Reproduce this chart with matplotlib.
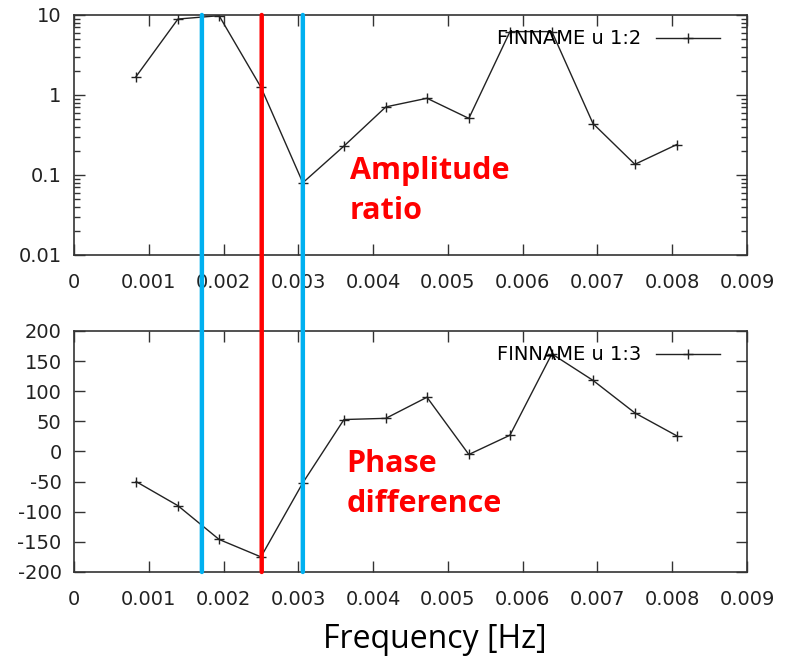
import matplotlib.pyplot as plt
from matplotlib.patches import ConnectionPatch

plt.rcParams["axes.unicode_minus"] = False

# frequency bins [Hz]
freq = [0.00083, 0.00139, 0.00194, 0.0025, 0.00306, 0.00361, 0.00417,
        0.00472, 0.00528, 0.00583, 0.00639, 0.00694, 0.0075, 0.00806]
# amplitude ratio (column 2)
amp_ratio = [1.7, 8.9, 9.8, 1.25, 0.08, 0.23, 0.71,
             0.91, 0.51, 6.2, 6.2, 0.44, 0.136, 0.24]
# phase difference (column 3)
phase_diff = [-50, -90, -146, -175, -52, 53, 55,
              90, -5, 27, 162, 118, 64, 26]

xticks = [0, 0.001, 0.002, 0.003, 0.004, 0.005, 0.006, 0.007, 0.008, 0.009]
xticklabels = ["0", "0.001", "0.002", "0.003", "0.004", "0.005", "0.006", "0.007", "0.008", "0.009"]
marker_freqs = [0.00171, 0.00251, 0.00306]
marker_colors = ["#00b0f0", "#ff0000", "#00b0f0"]

fig = plt.figure(figsize=(7.89, 6.63), dpi=100)
ax1 = fig.add_axes([0.0938, 0.6154, 0.853, 0.362])
ax2 = fig.add_axes([0.0938, 0.1373, 0.853, 0.3635])

def style(ax):
    for s in ax.spines.values():
        s.set_color("#333333")
        s.set_linewidth(1.2)
    ax.set_xlim(0, 0.009)
    ax.set_xticks(xticks)
    ax.set_xticklabels(xticklabels, fontsize=14, color="#222222")
    ax.tick_params(direction="in", top=True, right=True, length=8, width=1, color="#333333")
    ax.tick_params(axis="x", pad=13)
    ax.tick_params(axis="y", pad=9)
    ax.tick_params(which="minor", direction="in", top=True, right=True, length=4, width=1, color="#333333")
    for lab in ax.get_yticklabels():
        lab.set_fontsize(14)
        lab.set_color("#222222")
    ax.legend(loc="upper right", frameon=False, markerfirst=False, handlelength=3.3,
              handletextpad=0.75, fontsize=14, borderaxespad=0, borderpad=0,
              bbox_to_anchor=(0.96, 0.94))

# top: amplitude ratio (log)
ax1.plot(freq, amp_ratio, color="#222222", lw=1, marker="+", ms=7, mew=1, label="FINNAME u 1:2")
ax1.set_yscale("log")
ax1.set_ylim(0.01, 10)
ax1.set_yticks([0.01, 0.1, 1, 10])
ax1.set_yticklabels(["0.01", "0.1", "1", "10"])
style(ax1)
ax1.text(0.00369, 0.063, "Amplitude\nratio", color="red", fontsize=22, fontweight="bold",
         family="Open Sans", ha="left", va="center", linespacing=1.45)

# bottom: phase difference
ax2.plot(freq, phase_diff, color="#222222", lw=1, marker="+", ms=7, mew=1, label="FINNAME u 1:3")
ax2.set_ylim(-200, 200)
ax2.set_yticks(range(-200, 201, 50))
style(ax2)
ax2.text(0.00364, -54, "Phase\ndifference", color="red", fontsize=22, fontweight="bold",
         family="Open Sans", ha="left", va="center", linespacing=1.45)

# vertical marker lines through both panels
for xf, c in zip(marker_freqs, marker_colors):
    con = ConnectionPatch(xyA=(xf, 10), coordsA=ax1.transData,
                          xyB=(xf, -200), coordsB=ax2.transData,
                          color=c, lw=3.2, zorder=5)
    fig.add_artist(con)

fig.text(0.551, 0.035, "Frequency [Hz]", fontsize=23, family="Open Sans", ha="center", va="center")

fig.savefig("out.png", dpi=100)
